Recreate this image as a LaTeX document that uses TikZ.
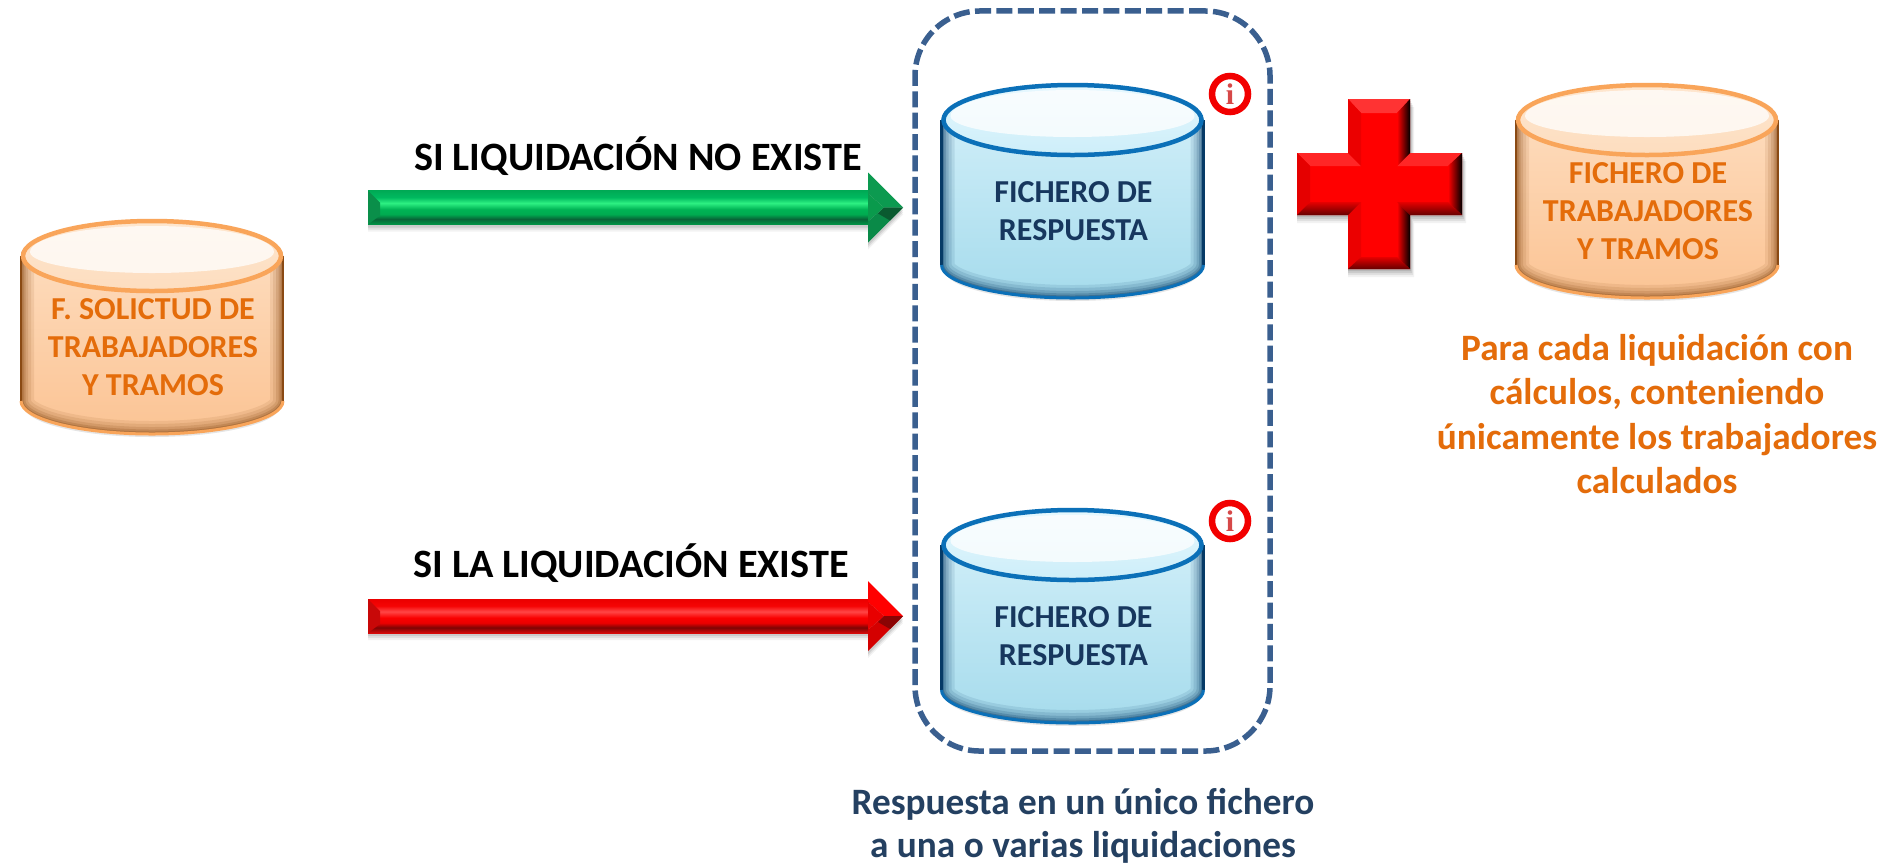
\documentclass[tikz,border=0pt]{standalone}
\usepackage{fontspec}
\setmainfont{Carlito}
\newfontfamily\iconfont{Liberation Serif}
\definecolor{dashblue}{HTML}{3A5F8F}
\definecolor{navytext}{HTML}{244061}
\definecolor{cyltextblue}{HTML}{17375E}
\definecolor{orangetext}{HTML}{E46C0A}
\definecolor{infotext}{HTML}{D64848}
\definecolor{bodyTopB}{HTML}{D6F1FA}\definecolor{bodyBotB}{HTML}{A5DBEC}
\definecolor{lidTopB}{HTML}{E6F8FE}\definecolor{lidBotB}{HTML}{CDEEF9}
\definecolor{rimB}{HTML}{0B70B8}\definecolor{edgeB}{HTML}{063A66}
\definecolor{bodyTopO}{HTML}{FEE0C4}\definecolor{bodyBotO}{HTML}{FBC393}
\definecolor{lidTopO}{HTML}{FEE6CE}\definecolor{lidBotO}{HTML}{FDDDBF}
\definecolor{rimO}{HTML}{F9A55A}\definecolor{edgeO}{HTML}{8A4A14}
\definecolor{gUp}{HTML}{0C9A50}\definecolor{gMid}{HTML}{0A9A4C}\definecolor{gLow}{HTML}{0A8A48}\definecolor{gLeft}{HTML}{0A8F4A}\definecolor{gTip}{HTML}{0A5A30}
\definecolor{rUp}{HTML}{FF0000}\definecolor{rMid}{HTML}{E80000}\definecolor{rLow}{HTML}{D40000}\definecolor{rLeft}{HTML}{C80808}\definecolor{rTip}{HTML}{8A0404}
\definecolor{gA}{HTML}{009646}\definecolor{gB}{HTML}{086437}\definecolor{gC}{HTML}{00AA50}\definecolor{gD}{HTML}{00B455}\definecolor{gE}{HTML}{2DF082}\definecolor{gF}{HTML}{00B95F}\definecolor{gG}{HTML}{00AA55}
\definecolor{rA}{HTML}{D70A0A}\definecolor{rB}{HTML}{7D0505}\definecolor{rC}{HTML}{EB0000}\definecolor{rD}{HTML}{FA0000}\definecolor{rE}{HTML}{FF4646}\definecolor{rF}{HTML}{F50505}\definecolor{rG}{HTML}{EB0000}
\pgfdeclareverticalshading{greenshaft}{100bp}{color(0bp)=(gA);color(25bp)=(gA);color(33bp)=(gB);color(40bp)=(gC);color(47.5bp)=(gD);color(56.5bp)=(gE);color(65bp)=(gF);color(75bp)=(gG);color(100bp)=(gG)}
\pgfdeclareverticalshading{redshaft}{100bp}{color(0bp)=(rA);color(25bp)=(rA);color(33bp)=(rB);color(40bp)=(rC);color(47.5bp)=(rD);color(56.5bp)=(rE);color(65bp)=(rF);color(75bp)=(rG);color(100bp)=(rG)}
\newcommand{\pxw}{0.5692pt}
\tikzset{
  x=0.02cm,y=-0.02cm,
  cyllabel/.style={font=\fontsize{18.2}{21.6}\selectfont\bfseries,align=center,inner sep=0pt},
  routelabel/.style={font=\fontsize{22.9}{26}\selectfont\bfseries,text=black,inner sep=0pt},
  notelabel/.style={font=\fontsize{21.2}{25.2}\selectfont\bfseries,align=center,inner sep=0pt},
  framelabel/.style={font=\fontsize{21.2}{24.4}\selectfont\bfseries,align=center,inner sep=0pt},
  infobadge/.style={circle,draw=red!95!black,line width=6.5*\pxw,fill=white,minimum size=36*\pxw,inner sep=0pt,text=infotext,font=\iconfont\bfseries\fontsize{17}{17}\selectfont},
}
% cx, cy of lid, colour suffix, node name, text colour, text
\newcommand{\cylindershape}[6]{%
\begin{scope}[shift={(#1,#2)}]
  \def\bodypath{(-131,0) -- (-131,145) arc[start angle=180,end angle=0,x radius=131,y radius=33] -- (131,0) arc[start angle=0,end angle=-180,x radius=131,y radius=36] -- cycle}
  \fill[black,opacity=.10] (-128,150) arc[start angle=180,end angle=0,x radius=128,y radius=31] -- cycle;
  \begin{scope}
    \clip \bodypath;
    \shade[top color=bodyTop#3,bottom color=bodyBot#3] (-132,-36) rectangle (132,182);
    \foreach \wd/\op in {26/.10,20/.12,14/.16,9/.22,5/.32}{
      \draw[edge#3,opacity=\op,line width=\wd*\pxw] \bodypath;
    }
  \end{scope}
  \draw[edge#3,line width=2.5*\pxw] (-131,0) -- (-131,145);
  \draw[edge#3,line width=2.5*\pxw] (131,0) -- (131,145);
  \draw[rim#3,line width=3*\pxw] (-131,145) arc[start angle=180,end angle=0,x radius=131,y radius=33];
  \shade[top color=lidTop#3,bottom color=lidBot#3] (0,0) ellipse[x radius=129,y radius=34];
  \fill[white,opacity=.75] (-122,-4) arc[start angle=180,end angle=360,x radius=122,y radius=26] arc[start angle=0,end angle=180,x radius=122,y radius=21] -- cycle;
  \draw[rim#3,line width=4.5*\pxw] (0,0) ellipse[x radius=129,y radius=35];
  \node[cyllabel,text=#5] (#4) at (1,91) {#6};
\end{scope}}
% y centre, shading, colour prefix
\newcommand{\bevelarrow}[3]{%
\begin{scope}[shift={(0,#1)}]
  \foreach \dd/\op in {7/.05,5/.07,3/.09}{
    \fill[black,opacity=\op] (368,-17+\dd) -- (868,-17+\dd) -- (868,-35+\dd) -- (903,\dd) -- (868,35+\dd) -- (868,17+\dd) -- (368,17+\dd) -- cycle;
  }
  \shade[shading=#2] (368,-17) rectangle (869,17);
  \fill[#3Left] (368,-17) -- (380,-5) -- (380,8) -- (368,17) -- cycle;
  \fill[#3Up] (868,-35) -- (903,0) -- (884,0) -- (868,-14) -- cycle;
  \fill[#3Mid] (868,-14) -- (884,0) -- (868,14) -- cycle;
  \fill[#3Low] (868,35) -- (903,0) -- (884,0) -- (868,14) -- cycle;
  \fill[#3Tip] (884,0) -- (903,0) -- (890,13) -- (878,6) -- cycle;
\end{scope}}
\begin{document}
\begin{tikzpicture}
\useasboundingbox (0,0) rectangle (1893,863);
\fill[white] (0,0) rectangle (1893,863);

% dashed frame
\node[draw=dashblue,line width=5.5*\pxw,dash pattern=on 16*\pxw off 5.4*\pxw,rounded corners=65*\pxw,minimum width=355*\pxw,minimum height=740*\pxw,inner sep=0pt] (frame) at (1092.5,381) {};

% cylinders
\cylindershape{152}{256}{O}{solicitud}{orangetext}{F. SOLICTUD DE\\TRABAJADORES\\Y TRAMOS}
\cylindershape{1072.5}{120}{B}{respuestaA}{cyltextblue}{FICHERO DE\\RESPUESTA}
\cylindershape{1072.5}{545}{B}{respuestaB}{cyltextblue}{FICHERO DE\\RESPUESTA}
\cylindershape{1647}{120}{O}{trabajadores}{orangetext}{FICHERO DE\\TRABAJADORES\\Y TRAMOS}

% arrows
\bevelarrow{207.5}{greenshaft}{g}
\bevelarrow{616}{redshaft}{r}

% plus sign
\foreach \dd/\op in {8/.05,6/.07,4/.09,2/.1}{
  \fill[black,opacity=\op] (1348,99+\dd) -- (1410+\dd/2,99+\dd) -- (1410+\dd/2,153+\dd) -- (1462+\dd/2,153+\dd) -- (1462+\dd/2,215+\dd) -- (1410+\dd/2,215+\dd) -- (1410+\dd/2,269+\dd) -- (1348,269+\dd) -- (1348,215+\dd) -- (1297,215+\dd) -- (1297,153+\dd) -- (1348,153+\dd) -- cycle;
}
\fill[red] (1348,99) -- (1410,99) -- (1410,153) -- (1462,153) -- (1462,215) -- (1410,215) -- (1410,269) -- (1348,269) -- (1348,215) -- (1297,215) -- (1297,153) -- (1348,153) -- cycle;
% top facets
\fill[red!80!white] (1348,99) -- (1410,99) -- (1397,113) -- (1361,113) -- cycle;
\fill[red!85!white] (1297,153) -- (1348,153) -- (1361,166) -- (1310,166) -- cycle;
\fill[red!85!white] (1410,153) -- (1462,153) -- (1448,166) -- (1397,166) -- cycle;
% left facets
\fill[red!92!black] (1348,99) -- (1361,113) -- (1361,166) -- (1348,153) -- cycle;
\fill[red!92!black] (1348,215) -- (1361,202) -- (1361,257) -- (1348,269) -- cycle;
\fill[red!90!black] (1297,153) -- (1310,166) -- (1310,202) -- (1297,215) -- cycle;
% right facets
\shade[left color=red,right color=black] (1410,99) -- (1410,153) -- (1397,166) -- (1397,113) -- cycle;
\shade[left color=red,right color=black] (1410,215) -- (1410,269) -- (1397,257) -- (1397,202) -- cycle;
\shade[left color=red,right color=black] (1462,153) -- (1462,215) -- (1448,202) -- (1448,166) -- cycle;
% bottom facets
\shade[top color=red!90!black,bottom color=red!40!black] (1297,215) -- (1348,215) -- (1361,202) -- (1310,202) -- cycle;
\shade[top color=red!90!black,bottom color=red!40!black] (1410,215) -- (1462,215) -- (1448,202) -- (1397,202) -- cycle;
\shade[top color=red!90!black,bottom color=red!40!black] (1348,269) -- (1410,269) -- (1397,257) -- (1361,257) -- cycle;

% info badges
\node[infobadge] (infoA) at (1230,94) {i};
\node[infobadge] (infoB) at (1230,521) {i};

% labels
\node[routelabel] (routeA) at (638,156) {SI LIQUIDACIÓN NO EXISTE};
\node[routelabel] (routeB) at (631,563) {SI LA LIQUIDACIÓN EXISTE};
\node[framelabel,text=navytext] (noteframe) at (1083,825.5) {Respuesta en un único fichero\\a una o varias liquidaciones};
\node[notelabel,text=orangetext] (notecalc) at (1657,414) {Para cada liquidación con\\cálculos, conteniendo\\únicamente los trabajadores\\calculados};
\end{tikzpicture}
\end{document}
